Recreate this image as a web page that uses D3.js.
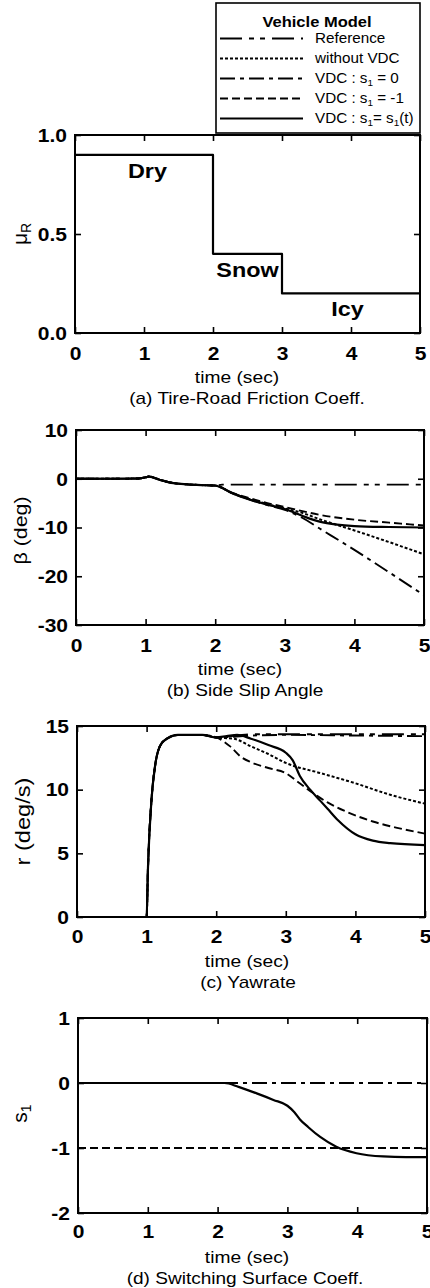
<!DOCTYPE html>
<html><head><meta charset="utf-8">
<script src="https://cdn.jsdelivr.net/npm/d3@7"></script>
<style>
html,body{margin:0;padding:0;background:#fff;}
svg{display:block;}
text{font-family:"Liberation Sans",Arial,Helvetica,sans-serif;fill:#000;}
</style>
</head><body>
<svg id="chart" width="430" height="1288"></svg>
<script>
// ---------------- DATA ----------------
const timeTicks = [0, 1, 2, 3, 4, 5];
const muTicks = [0, 0.5, 1.0];
const betaTicks = [-30, -20, -10, 0, 10];
const rTicks = [0, 5, 10, 15];
const sTicks = [-2, -1, 0, 1];

const seriesKeys = ["ref", "noVdc", "s0", "sm1", "st"];
const legendLabels = [
  ["Reference"],
  ["without VDC"],
  ["VDC : s", "1", " = 0"],
  ["VDC : s", "1", " = -1"],
  ["VDC : s", "1", "= s", "1", "(t)"]
];

// (a) tire-road friction coefficient
const muTime = [0, 2, 2, 3, 3, 5];
const muValue = [0.9, 0.9, 0.4, 0.4, 0.2, 0.2];
const roadLabels = ["Dry", "Snow", "Icy"];

// (b) side slip angle (deg)
const betaTimeCommon = [0, 0.5, 0.9, 1.0, 1.05, 1.2, 1.4, 1.6, 1.8, 2.0];
const betaCommon     = [0, 0, 0.05, 0.3, 0.45, -0.2, -0.9, -1.15, -1.3, -1.4];
const betaRefTime   = [2.1, 3.0, 4.0, 5.0];
const betaRef       = [-1.2, -1.2, -1.2, -1.2];
const betaNoVdcTime = [2.25, 2.5, 2.75, 3.0, 3.25, 3.5, 4.0, 4.5, 5.0];
const betaNoVdc     = [-3.0, -4.2, -5.2, -6.1, -7.0, -8.3, -10.6, -13.0, -15.5];
const betaS0Time    = [2.25, 2.5, 2.75, 3.0, 3.25, 3.5, 4.0, 4.5, 5.0];
const betaS0        = [-3.0, -4.3, -5.4, -6.4, -8.0, -10.2, -14.6, -19.2, -23.9];
const betaSm1Time   = [2.25, 2.5, 2.75, 3.0, 3.5, 4.0, 4.5, 5.0];
const betaSm1       = [-2.9, -4.0, -5.0, -5.8, -7.4, -8.4, -9.0, -9.6];
const betaStTime    = [2.25, 2.5, 2.75, 3.0, 3.25, 3.5, 3.75, 4.0, 4.5, 5.0];
const betaSt        = [-3.0, -4.3, -5.3, -6.2, -7.6, -8.8, -9.4, -9.7, -9.9, -10.0];

// (c) yaw rate (deg/s)
const rTimeCommon = [0, 1.0, 1.02, 1.07, 1.12, 1.19, 1.29, 1.45, 1.8, 2.0];
const rCommon     = [0, 0, 3.9, 9.2, 11.8, 13.4, 14.0, 14.3, 14.3, 14.1];
const rRefTime    = [2.5, 3.0, 4.0, 5.0];
const rRef        = [14.35, 14.35, 14.35, 14.35];
const rNoVdcTime  = [2.25, 2.5, 2.75, 3.0, 3.5, 4.0, 4.5, 5.0];
const rNoVdc      = [14.0, 13.4, 12.8, 12.1, 11.3, 10.5, 9.6, 8.9];
const rS0Time     = [2.5, 3.0, 4.0, 5.0];
const rS0         = [14.25, 14.3, 14.25, 14.2];
const rSm1Time    = [2.2, 2.35, 2.5, 2.75, 3.0, 3.2, 3.4, 3.6, 3.9, 4.25, 4.6, 5.0];
const rSm1        = [13.4, 12.6, 12.15, 11.7, 11.3, 10.5, 9.7, 9.0, 8.2, 7.5, 7.0, 6.55];
const rStTime     = [2.15, 2.3, 2.5, 2.75, 3.0, 3.1, 3.2, 3.35, 3.5, 3.6, 3.75, 4.0, 4.25, 4.5, 5.0];
const rSt         = [14.2, 14.3, 14.0, 13.5, 12.9, 12.3, 11.1, 10.0, 9.1, 8.5, 7.6, 6.5, 6.0, 5.8, 5.65];

// (d) switching surface coefficient
const sS0Time  = [0, 5];
const sS0      = [0, 0];
const sSm1Time = [0, 5];
const sSm1     = [-1, -1];
const sStTime  = [0, 2.1, 2.3, 2.56, 2.8, 3.0, 3.1, 3.18, 3.3, 3.47, 3.7, 3.99, 4.37, 4.7, 5.0];
const sSt      = [0, 0, -0.06, -0.16, -0.26, -0.35, -0.45, -0.56, -0.68, -0.83, -0.98, -1.08, -1.13, -1.14, -1.14];

// ---------------- STYLES / LAYOUT ----------------
const lineStyle = {
  ref:   {dash: "22,7,5,6,5,7", w: 1.9},
  noVdc: {dash: "3,2", w: 2},
  s0:    {dash: "15,5,4,5", w: 1.9},
  sm1:   {dash: "8,4", w: 1.9},
  st:    {dash: null, w: 2.2}
};

const svg = d3.select("#chart");
svg.append("rect").attr("width", 430).attr("height", 1288).attr("fill", "#fff");

function fit(sel, k) {
  sel.each(function () {
    const L = this.getComputedTextLength();
    if (L > 0) {
      this.setAttribute("textLength", (L * k).toFixed(2));
      this.setAttribute("lengthAdjust", "spacingAndGlyphs");
    }
  });
}
function fitTo(sel, target) {
  sel.attr("textLength", target).attr("lengthAdjust", "spacingAndGlyphs");
}
function zip(t, v) { return t.map((d, i) => ({t: d, v: v[i]})); }

function addParts(textSel, parts, mainSize, subSize) {
  parts.forEach((p, i) => {
    const ts = textSel.append("tspan").text(p);
    if (i % 2 === 1) ts.attr("font-size", subSize).attr("baseline-shift", "-25%");
    else ts.attr("font-size", mainSize);
  });
}

function drawPanel(p) {
  const g = svg.append("g");
  const x = d3.scaleLinear().domain([0, 5]).range([p.left, p.right]);
  const y = d3.scaleLinear().domain(p.yDomain).range([p.bottom, p.top]);

  const styleAxis = (ax) => {
    ax.select(".domain").remove();
    ax.selectAll(".tick line").attr("stroke", "#000").attr("stroke-width", 1.6);
    ax.selectAll("text").style("font-size", "17.5px").style("font-weight", "bold");
  };

  const bx = g.append("g").attr("transform", `translate(0,${p.bottom})`)
    .call(d3.axisBottom(x).tickValues(timeTicks).tickSizeInner(-6).tickSizeOuter(0)
      .tickPadding(p.xPad).tickFormat(d3.format("d")));
  styleAxis(bx);
  fit(bx.selectAll("text"), 1.2);

  const tx = g.append("g").attr("transform", `translate(0,${p.top})`)
    .call(d3.axisTop(x).tickValues(timeTicks).tickSizeInner(-6).tickSizeOuter(0).tickFormat(() => ""));
  styleAxis(tx);

  const ly = g.append("g").attr("transform", `translate(${p.left},0)`)
    .call(d3.axisLeft(y).tickValues(p.yTicks).tickSizeInner(-6).tickSizeOuter(0)
      .tickPadding(8).tickFormat(p.fmt));
  styleAxis(ly);
  ly.selectAll("text").attr("dy", "0.36em");
  fit(ly.selectAll("text"), 1.2);

  const ry = g.append("g").attr("transform", `translate(${p.right},0)`)
    .call(d3.axisRight(y).tickValues(p.yTicks).tickSizeInner(-6).tickSizeOuter(0).tickFormat(() => ""));
  styleAxis(ry);

  const line = d3.line().x(d => x(d.t)).y(d => y(d.v)).curve(p.curve || d3.curveMonotoneX);
  p.series.forEach(s => {
    const st = lineStyle[s.key];
    g.append("path").datum(s.data)
      .attr("d", line)
      .attr("fill", "none").attr("stroke", "#000")
      .attr("stroke-width", st.w)
      .attr("stroke-dasharray", st.dash)
      .attr("stroke-linejoin", "round");
  });

  g.append("rect").attr("x", p.left).attr("y", p.top)
    .attr("width", p.right - p.left).attr("height", p.bottom - p.top)
    .attr("fill", "none").attr("stroke", "#000").attr("stroke-width", 2);

  const tl = g.append("text").attr("x", p.xLabelX).attr("y", p.bottom + 50)
    .attr("text-anchor", "middle").style("font-size", "17px").text("time (sec)");
  fit(tl, 1.13);
  const cap = g.append("text").attr("x", p.capX).attr("y", p.bottom + 71)
    .attr("text-anchor", "middle").style("font-size", "17px").text(p.caption);
  fit(cap, 1.12);

  const yl = g.append("text")
    .attr("transform", `translate(${p.yLabelX},${(p.top + p.bottom) / 2 + p.yLabelDy}) rotate(-90)`)
    .attr("text-anchor", "middle").attr("dy", "0.35em");
  addParts(yl, p.yLabel, p.yLabelSize, Math.round(p.yLabelSize * 0.65));
  if (p.yLabelLen) fitTo(yl, p.yLabelLen);

  return {g, x, y};
}

const fmtInt = d => String(d);

// Panel (a)
const pa = drawPanel({
  left: 75, right: 420, top: 135, bottom: 333,
  yDomain: [0, 1], yTicks: muTicks, fmt: d3.format(".1f"), xPad: 15,
  curve: d3.curveLinear,
  series: [{key: "st", data: zip(muTime, muValue)}],
  caption: "(a) Tire-Road Friction Coeff.", xLabelX: 237, capX: 247,
  yLabel: ["μ", "R"], yLabelSize: 21, yLabelX: 21, yLabelDy: 0, yLabelLen: null
});
const roadPos = [{t: 1.05, v: 0.9}, {t: 2.5, v: 0.4}, {t: 3.95, v: 0.2}];
roadLabels.forEach((lab, i) => {
  const tt = pa.g.append("text")
    .attr("x", pa.x(roadPos[i].t)).attr("y", pa.y(roadPos[i].v) + 23)
    .attr("text-anchor", "middle")
    .style("font-size", "20px").style("font-weight", "bold").text(lab);
  fit(tt, 1.17);
});

// Panel (b)
drawPanel({
  left: 76, right: 424, top: 430, bottom: 625,
  yDomain: [-30, 10], yTicks: betaTicks, fmt: fmtInt, xPad: 15,
  series: [
    {key: "noVdc", data: zip(betaTimeCommon.concat(betaNoVdcTime), betaCommon.concat(betaNoVdc))},
    {key: "s0",    data: zip(betaTimeCommon.concat(betaS0Time), betaCommon.concat(betaS0))},
    {key: "ref",   data: zip(betaTimeCommon.concat(betaRefTime), betaCommon.concat(betaRef))},
    {key: "sm1",   data: zip(betaTimeCommon.concat(betaSm1Time), betaCommon.concat(betaSm1))},
    {key: "st",    data: zip(betaTimeCommon.concat(betaStTime), betaCommon.concat(betaSt))}
  ],
  caption: "(b) Side Slip Angle", xLabelX: 240, capX: 245,
  yLabel: ["β (deg)"], yLabelSize: 19, yLabelX: 21, yLabelDy: 3, yLabelLen: 68
});

// Panel (c)
drawPanel({
  left: 77, right: 425, top: 726, bottom: 917,
  yDomain: [0, 15], yTicks: rTicks, fmt: fmtInt, xPad: 14,
  series: [
    {key: "noVdc", data: zip(rTimeCommon.concat(rNoVdcTime), rCommon.concat(rNoVdc))},
    {key: "ref",   data: zip(rTimeCommon.concat(rRefTime), rCommon.concat(rRef))},
    {key: "s0",    data: zip(rTimeCommon.concat(rS0Time), rCommon.concat(rS0))},
    {key: "sm1",   data: zip(rTimeCommon.concat(rSm1Time), rCommon.concat(rSm1))},
    {key: "st",    data: zip(rTimeCommon.concat(rStTime), rCommon.concat(rSt))}
  ],
  caption: "(c) Yawrate", xLabelX: 247, capX: 248,
  yLabel: ["r (deg/s)"], yLabelSize: 20, yLabelX: 24, yLabelDy: 0, yLabelLen: 88
});

// Panel (d)
drawPanel({
  left: 78, right: 427, top: 1018, bottom: 1213,
  yDomain: [-2, 1], yTicks: sTicks, fmt: fmtInt, xPad: 13,
  series: [
    {key: "s0",  data: zip(sS0Time, sS0)},
    {key: "sm1", data: zip(sSm1Time, sSm1)},
    {key: "st",  data: zip(sStTime, sSt)}
  ],
  caption: "(d) Switching Surface Coeff.", xLabelX: 247, capX: 245,
  yLabel: ["s", "1"], yLabelSize: 21, yLabelX: 21, yLabelDy: -2, yLabelLen: null
});

// ---------------- LEGEND ----------------
const lg = svg.append("g");
lg.append("rect").attr("x", 216).attr("y", 3).attr("width", 204).attr("height", 130)
  .attr("fill", "#fff").attr("stroke", "#000").attr("stroke-width", 1.6);
const title = lg.append("text").attr("x", 317).attr("y", 27).attr("text-anchor", "middle")
  .style("font-size", "15px").style("font-weight", "bold").text("Vehicle Model");
fit(title, 1.1);
const rowY = d3.scaleLinear().domain([0, 1]).range([43, 63]);
seriesKeys.forEach((k, i) => {
  const base = rowY(i);
  const st = lineStyle[k];
  lg.append("line").attr("x1", 220).attr("x2", 303)
    .attr("y1", base - 4.5).attr("y2", base - 4.5)
    .attr("stroke", "#000").attr("stroke-width", st.w).attr("stroke-dasharray", st.dash);
  const t = lg.append("text").attr("x", 315).attr("y", base).style("font-size", "14.5px");
  addParts(t, legendLabels[i], "14.5px", "9.5px");
  fit(t, 1.05);
});
</script>
</body></html>
